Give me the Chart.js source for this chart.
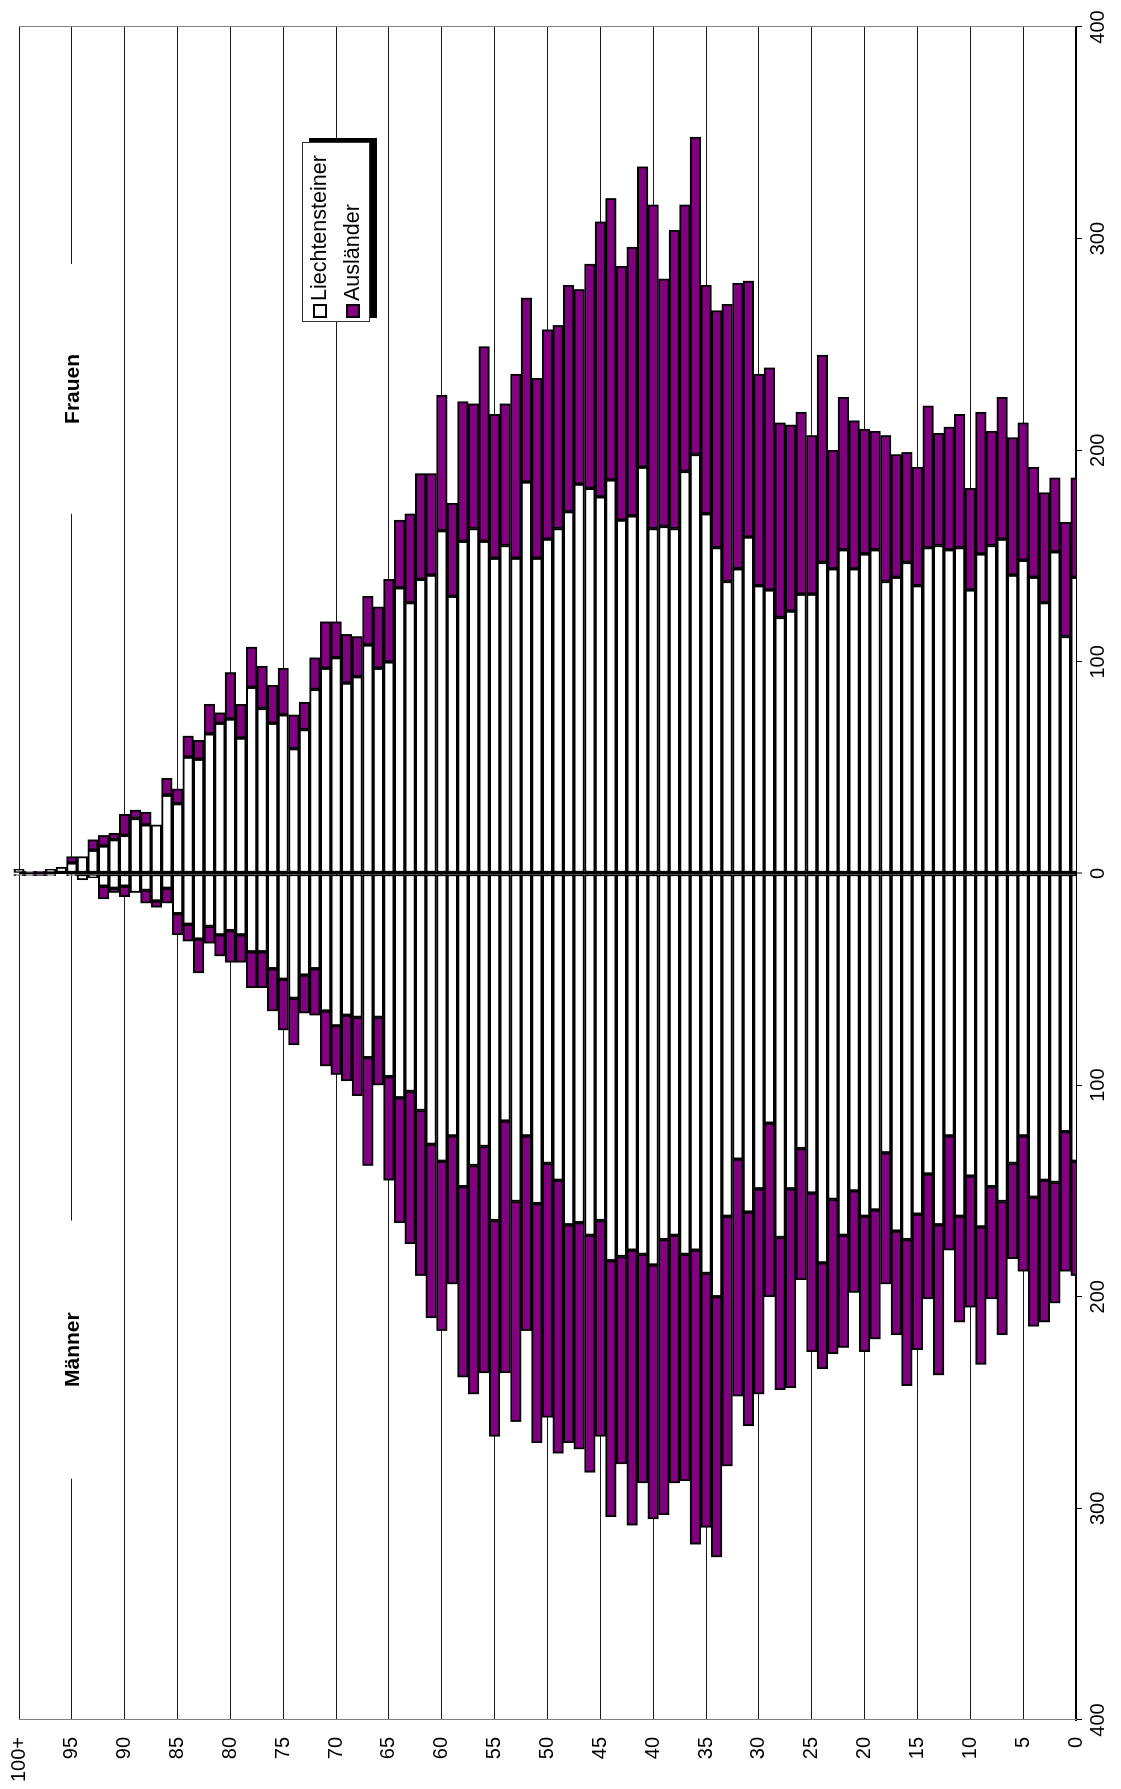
<!DOCTYPE html>
<html lang="de">
<head>
<meta charset="utf-8">
<title>Bevölkerung nach Alter</title>
<script src="https://cdn.jsdelivr.net/npm/chart.js@4/dist/chart.umd.min.js"></script>
<style>
  html, body { margin: 0; padding: 0; background: #fff; width: 1121px; height: 1789px; overflow: hidden; }
  /* the chart is built upright and turned a quarter to the left */
  #turn { position: absolute; left: 0; top: 0; width: 1789px; height: 1121px;
          transform-origin: 0 0; transform: translateY(1789px) rotate(-90deg);
          font-family: "Liberation Sans", Arial, sans-serif; }
  #pyramid { position: absolute; left: 0; top: 0; }
  #legend { position: absolute; left: 1467px; top: 302px; width: 178px; height: 66px;
            background: #fff; border: 1px solid #333; box-shadow: 4px 7px 0 #000; font-size: 21.5px; color: #000; }
  #legend .item { position: absolute; left: 3px; height: 26px; line-height: 26px; white-space: nowrap; }
  #legend .item i { display: inline-block; width: 10px; height: 10px; border: 2px solid #000; margin-right: 3px; vertical-align: -1px; }
</style>
</head>
<body>
<div id="turn">
  <canvas id="pyramid" width="1789" height="1121"></canvas>
  <div id="legend">
    <div class="item" style="top:3px"><i style="background:#fff"></i>Liechtensteiner</div>
    <div class="item" style="top:36px"><i style="background:#800080"></i>Ausländer</div>
  </div>
</div>
<script>
(function(){
    'use strict';

    var ages = ['0','1','2','3','4','5','6','7','8','9',
        '10','11','12','13','14','15','16','17','18','19',
        '20','21','22','23','24','25','26','27','28','29',
        '30','31','32','33','34','35','36','37','38','39',
        '40','41','42','43','44','45','46','47','48','49',
        '50','51','52','53','54','55','56','57','58','59',
        '60','61','62','63','64','65','66','67','68','69',
        '70','71','72','73','74','75','76','77','78','79',
        '80','81','82','83','84','85','86','87','88','89',
        '90','91','92','93','94','95','96','97','98','99','100+'];

    // Frauen, age 0 .. 100+
    var frauenLie = [140,112,152,128,140,148,141,158,155,151,
        134,154,153,155,154,136,147,140,138,153,
        151,144,153,144,147,132,132,124,121,134,
        136,159,144,138,154,170,198,190,163,164,
        163,192,169,167,186,178,182,184,171,163,
        158,149,185,149,155,149,157,163,157,131,
        162,141,139,128,135,100,97,108,93,90,
        102,97,87,68,59,75,71,78,88,64,
        73,71,66,54,55,33,37,23,23,26,
        18,16,13,11,8,5,3,2,0,1,2];
    var frauenAus = [47,54,35,52,52,65,65,67,54,67,
        48,63,58,53,67,56,52,58,69,56,
        59,70,72,56,98,75,86,88,92,105,
        100,121,135,131,112,108,150,126,141,117,
        153,142,127,120,133,130,106,92,107,96,
        99,85,87,87,67,68,92,59,66,44,
        64,48,50,42,32,39,29,23,19,23,
        17,22,15,13,16,22,18,20,19,16,
        22,5,14,9,10,7,8,0,6,4,
        10,3,5,5,0,3,0,0,1,0,0];

    // Männer, age 0 .. 100+
    var maennerLie = [136,122,146,145,153,124,137,155,148,167,
        143,162,124,166,142,161,173,169,132,159,
        162,150,171,154,184,151,130,149,172,118,
        149,160,135,162,200,189,178,180,171,173,
        185,180,178,181,183,164,171,165,166,145,
        137,156,124,155,117,164,129,138,148,124,
        136,128,112,103,106,96,68,87,68,67,
        72,65,45,48,59,50,45,37,37,29,
        27,29,25,31,24,19,7,13,8,9,
        6,7,6,2,3,1,0,1,0,1,1];
    var maennerAus = [54,66,57,67,61,64,45,63,53,65,
        62,50,54,71,59,64,69,49,62,61,
        64,48,53,73,50,75,62,94,72,82,
        97,101,112,118,123,120,139,107,117,130,
        120,108,130,98,121,102,112,107,103,129,
        120,113,92,104,119,102,107,108,90,70,
        80,82,78,72,59,49,32,51,37,31,
        23,26,22,18,22,24,20,17,17,13,
        15,10,8,16,8,10,7,3,6,0,
        5,2,6,0,0,0,0,0,1,0,0];

    var xTicks = [-400, -300, -200, -100, 0, 100, 200, 300, 400];

    var purple = '#800080';
    var neg = function(a){ return a.map(function(v){ return -v; }); };

    Chart.defaults.font.family = '"Liberation Sans", Arial, sans-serif';
    Chart.defaults.font.size = 20;
    Chart.defaults.color = '#000';

    var barStyle = { stack: 'all', borderColor: '#000', borderWidth: 2, borderSkipped: false,
                     categoryPercentage: 1, barPercentage: 1, clip: { left: 0, right: 0, top: 8, bottom: 0 } };

    // side labels (Frauen / Männer) on white boxes, plus the plot frame on the open side
    var sideLabels = {
        id: 'sideLabels',
        beforeDatasetsDraw: function(chart){
            var c = chart.ctx, x = chart.scales.x, y = chart.scales.y, a = chart.chartArea;
            var py = y.getPixelForValue(95);
            var unit = x.getPixelForValue(100) - x.getPixelForValue(0);
            c.save();
            [['Frauen', 229, 59], ['Männer', -225, 61]].forEach(function(l){
                var px = x.getPixelForValue(l[1]);
                var hw = l[2] * unit / 100;
                c.fillStyle = '#fff';
                c.fillRect(px - hw, py - 14, hw * 2, 28);
                c.fillStyle = '#000';
                c.font = 'bold 21px "Liberation Sans", Arial, sans-serif';
                c.textAlign = 'center';
                c.textBaseline = 'middle';
                c.fillText(l[0], px, py + 1);
            });
            c.strokeStyle = '#808080';
            c.lineWidth = 1;
            c.beginPath();
            c.moveTo(Math.round(a.right) + 0.5, a.top);
            c.lineTo(Math.round(a.right) + 0.5, a.bottom);
            c.stroke();
            c.restore();
        }
    };

    new Chart(document.getElementById('pyramid').getContext('2d'), {
        type: 'bar',
        data: {
            labels: ages,
            datasets: [
                Object.assign({ label: 'Liechtensteiner (Männer)', data: neg(maennerLie), backgroundColor: '#fff' }, barStyle),
                Object.assign({ label: 'Ausländer (Männer)', data: neg(maennerAus), backgroundColor: purple }, barStyle),
                Object.assign({ label: 'Liechtensteiner (Frauen)', data: frauenLie, backgroundColor: '#fff' }, barStyle),
                Object.assign({ label: 'Ausländer (Frauen)', data: frauenAus, backgroundColor: purple }, barStyle)
            ]
        },
        options: {
            indexAxis: 'y',
            responsive: false,
            animation: false,
            events: [],
            layout: { padding: { top: 19, right: 27, left: 0, bottom: 0 } },
            plugins: {
                legend: { display: false },
                tooltip: { enabled: false }
            },
            scales: {
                x: {
                    stacked: true,
                    min: -400,
                    max: 400,
                    afterBuildTicks: function(s){ s.ticks = xTicks.map(function(v){ return { value: v }; }); },
                    afterFit: function(s){ s.height = 45; s.paddingLeft = 0; s.paddingRight = 0; },
                    border: { display: true, color: '#000', width: 2 },
                    grid: {
                        color: function(ctx){ return ctx.tick && ctx.tick.value === 0 ? '#000' : 'rgba(0,0,0,0)'; },
                        lineWidth: function(ctx){ return ctx.tick && ctx.tick.value === 0 ? 2 : 1; },
                        tickColor: '#000',
                        tickWidth: 1,
                        tickLength: 6
                    },
                    ticks: {
                        padding: 4,
                        maxRotation: 0,
                        callback: function(v){ return Math.abs(v); }
                    }
                },
                y: {
                    stacked: true,
                    reverse: true,
                    offset: false,
                    afterFit: function(s){ s.width = 69; s.paddingTop = 0; s.paddingBottom = 0; },
                    border: { display: true, color: '#808080', width: 1 },
                    grid: {
                        offset: false,
                        drawTicks: false,
                        color: function(ctx){ return ctx.index % 5 === 0 ? '#1a1a1a' : 'rgba(0,0,0,0)'; },
                        lineWidth: 1
                    },
                    ticks: {
                        autoSkip: false,
                        padding: 17,
                        callback: function(v, i){ return i % 5 === 0 ? ages[i] : ''; }
                    }
                }
            }
        },
        plugins: [sideLabels]
    });
})();
</script>
</body>
</html>
